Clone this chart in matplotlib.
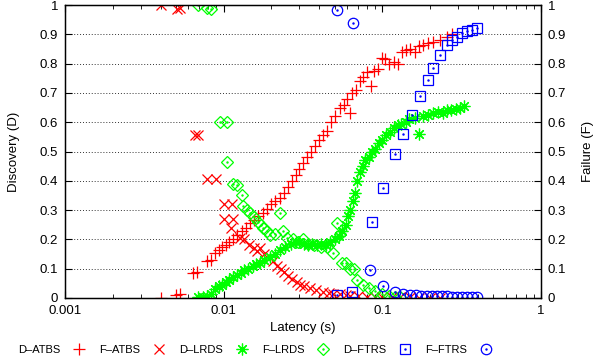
import matplotlib
matplotlib.use("Agg")
import matplotlib.pyplot as plt
from matplotlib.ticker import FixedLocator, FixedFormatter, LogLocator, NullFormatter
from matplotlib.legend_handler import HandlerTuple

plt.rcParams['font.family'] = ['Liberation Sans', 'DejaVu Sans']

# ---------------- data ----------------
d_atbs_x = [0.0040, 0.0050, 0.0053, 0.0064, 0.0068, 0.0079, 0.0083, 0.0088, 0.0093, 0.0098,
            0.0103, 0.0108, 0.0115, 0.0122, 0.0130, 0.0138, 0.0147, 0.0155, 0.0165, 0.0177,
            0.0188, 0.0200, 0.0212, 0.0226, 0.0240, 0.0255, 0.0270, 0.0285, 0.0300, 0.0318,
            0.0335, 0.0355, 0.0375, 0.0400, 0.0425, 0.0450, 0.0475, 0.050, 0.054, 0.057,
            0.060, 0.063, 0.064, 0.068, 0.072, 0.076, 0.080, 0.085, 0.088, 0.094,
            0.100, 0.104, 0.110, 0.118, 0.125, 0.133, 0.140, 0.150, 0.160, 0.170,
            0.180, 0.195, 0.210, 0.230, 0.255, 0.275]
d_atbs_y = [0.00, 0.01, 0.015, 0.085, 0.09, 0.125, 0.13, 0.155, 0.165, 0.175,
            0.18, 0.19, 0.20, 0.215, 0.23, 0.24, 0.255, 0.265, 0.28, 0.29,
            0.305, 0.32, 0.33, 0.34, 0.36, 0.38, 0.40, 0.42, 0.44, 0.46,
            0.48, 0.50, 0.52, 0.54, 0.555, 0.57, 0.60, 0.62, 0.65, 0.66,
            0.68, 0.63, 0.70, 0.71, 0.74, 0.755, 0.77, 0.725, 0.775, 0.78,
            0.82, 0.815, 0.80, 0.805, 0.80, 0.84, 0.845, 0.85, 0.84, 0.86,
            0.865, 0.87, 0.875, 0.88, 0.89, 0.90]

f_atbs_x = [0.0040, 0.0051, 0.0053, 0.0066, 0.0069, 0.0079, 0.0089, 0.0101, 0.0113, 0.0101,
            0.0115, 0.0112, 0.0126, 0.0135, 0.0145, 0.0155, 0.0163, 0.0170, 0.0180, 0.0195,
            0.0205, 0.0217, 0.0230, 0.0240, 0.0255, 0.0270, 0.0290, 0.0303, 0.0320, 0.0350,
            0.0380, 0.0423, 0.0460, 0.0490, 0.0540, 0.0590, 0.0630, 0.070, 0.080, 0.090,
            0.100, 0.115, 0.130, 0.150, 0.170, 0.200, 0.230]
f_atbs_y = [1.00, 0.985, 0.99, 0.556, 0.556, 0.405, 0.405, 0.32, 0.32, 0.27,
            0.27, 0.24, 0.205, 0.20, 0.18, 0.17, 0.16, 0.17, 0.15, 0.14,
            0.125, 0.11, 0.10, 0.09, 0.075, 0.065, 0.055, 0.045, 0.04, 0.033,
            0.027, 0.022, 0.018, 0.015, 0.012, 0.010, 0.008, 0.006, 0.005, 0.004,
            0.003, 0.003, 0.002, 0.002, 0.001, 0.001, 0.0]

d_lrds_x = [0.0069, 0.0074, 0.0079, 0.0083, 0.0088, 0.0093, 0.0098, 0.0103, 0.0108, 0.0115,
            0.0121, 0.0128, 0.0135, 0.0143, 0.0152, 0.0160, 0.0169, 0.0180, 0.0196, 0.0210,
            0.0226, 0.0245, 0.0265, 0.0285, 0.0300, 0.0320, 0.0340, 0.0360, 0.0385, 0.0410,
            0.0440, 0.0470, 0.0500, 0.0530, 0.0560, 0.0590, 0.0610, 0.0630, 0.0650, 0.0670,
            0.0690, 0.0720, 0.0750, 0.0780, 0.0820, 0.0860, 0.0900, 0.0950, 0.100, 0.106,
            0.112, 0.118, 0.125, 0.132, 0.140, 0.148, 0.160, 0.170, 0.180, 0.195,
            0.210, 0.225, 0.240, 0.255, 0.270, 0.290, 0.310, 0.325]
d_lrds_y = [0.003, 0.005, 0.008, 0.015, 0.03, 0.04, 0.045, 0.055, 0.06, 0.07,
            0.08, 0.085, 0.095, 0.10, 0.11, 0.115, 0.12, 0.13, 0.14, 0.15,
            0.165, 0.175, 0.185, 0.19, 0.19, 0.185, 0.18, 0.185, 0.18, 0.185,
            0.18, 0.19, 0.20, 0.21, 0.23, 0.25, 0.28, 0.30, 0.33, 0.36,
            0.40, 0.43, 0.45, 0.47, 0.48, 0.50, 0.51, 0.53, 0.54, 0.555,
            0.565, 0.58, 0.59, 0.595, 0.60, 0.61, 0.615, 0.56, 0.62, 0.625,
            0.63, 0.635, 0.63, 0.64, 0.64, 0.645, 0.65, 0.655]

f_lrds_x = [0.0069, 0.0079, 0.0083, 0.0095, 0.0105, 0.0105, 0.0114, 0.0121, 0.0130, 0.0132,
            0.0140, 0.0147, 0.0155, 0.0164, 0.0172, 0.0177, 0.0187, 0.0196, 0.0210, 0.0226,
            0.0237, 0.0250, 0.0273, 0.0295, 0.0316, 0.0340, 0.0370, 0.0410, 0.0448, 0.0489,
            0.0519, 0.0540, 0.0560, 0.0590, 0.0626, 0.0660, 0.0692, 0.0756, 0.082, 0.090,
            0.100, 0.110, 0.120, 0.130]
f_lrds_y = [1.00, 0.99, 0.985, 0.60, 0.60, 0.465, 0.39, 0.385, 0.35, 0.315,
            0.30, 0.29, 0.275, 0.26, 0.25, 0.24, 0.23, 0.215, 0.22, 0.29,
            0.23, 0.205, 0.20, 0.19, 0.20, 0.185, 0.18, 0.175, 0.175, 0.155,
            0.255, 0.22, 0.12, 0.12, 0.10, 0.10, 0.06, 0.045, 0.035, 0.025,
            0.015, 0.008, 0.004, 0.002]

d_ftrs_x = [0.0517, 0.0641, 0.0860, 0.1009, 0.1200, 0.1349, 0.1537, 0.1727, 0.1938, 0.2084,
            0.2306, 0.2553, 0.2746, 0.2953, 0.3177, 0.3415, 0.3673, 0.3948]
d_ftrs_y = [0.01, 0.02, 0.26, 0.375, 0.49, 0.56, 0.625, 0.69, 0.745, 0.785,
            0.83, 0.865, 0.88, 0.89, 0.905, 0.91, 0.915, 0.92]

f_ftrs_x = [0.0517, 0.0650, 0.0837, 0.1009, 0.1200, 0.1349, 0.150, 0.163, 0.176, 0.190,
            0.205, 0.220, 0.237, 0.255, 0.275, 0.296, 0.318, 0.342, 0.367, 0.395]
f_ftrs_y = [0.983, 0.94, 0.095, 0.04, 0.02, 0.015, 0.01, 0.009, 0.008, 0.008,
            0.007, 0.007, 0.006, 0.006, 0.005, 0.005, 0.005, 0.004, 0.004, 0.004]

labels = ['D\u2013ATBS', 'F\u2013ATBS', 'D\u2013LRDS', 'F\u2013LRDS', 'D\u2013FTRS', 'F\u2013FTRS']
x_ticks = [0.001, 0.01, 0.1, 1]
x_tick_labels = ['0.001', '0.01', '0.1', '1']
y_ticks = [0, 0.1, 0.2, 0.3, 0.4, 0.5, 0.6, 0.7, 0.8, 0.9, 1]
y_tick_labels = ['0', '0.1', '0.2', '0.3', '0.4', '0.5', '0.6', '0.7', '0.8', '0.9', '1']

RED = '#ff0000'
GREEN = '#00ff00'
BLUE = '#0000ff'

fig = plt.figure(figsize=(5.97, 3.64), dpi=100)
ax = fig.add_axes([65 / 597, 66 / 364, 476 / 597, 293 / 364])
ax.set_xscale('log')

ms = 7.5
lw = 0.9
h1, = ax.plot(d_atbs_x, d_atbs_y, ls='none', marker='+', ms=ms + 1, mew=lw, color=RED)
h2, = ax.plot(f_atbs_x, f_atbs_y, ls='none', marker='x', ms=ms, mew=lw, color=RED)
h3, = ax.plot(d_lrds_x, d_lrds_y, ls='none', marker=(8, 2, 0), ms=ms + 1, mew=lw, color=GREEN)
h4, = ax.plot(f_lrds_x, f_lrds_y, ls='none', marker='D', ms=ms - 1.5, mew=lw, color=GREEN, mfc='none')
h4d, = ax.plot(f_lrds_x, f_lrds_y, ls='none', marker='.', ms=1.5, color=GREEN)
h5, = ax.plot(d_ftrs_x, d_ftrs_y, ls='none', marker='s', ms=ms, mew=lw, color=BLUE, mfc='none')
h5d, = ax.plot(d_ftrs_x, d_ftrs_y, ls='none', marker='.', ms=1.5, color=BLUE)
h6, = ax.plot(f_ftrs_x, f_ftrs_y, ls='none', marker='o', ms=ms, mew=lw, color=BLUE, mfc='none')
h6d, = ax.plot(f_ftrs_x, f_ftrs_y, ls='none', marker='.', ms=1.5, color=BLUE)

ax.set_xlim(0.001, 1)
ax.set_ylim(0, 1)
ax.xaxis.set_major_locator(FixedLocator(x_ticks))
ax.xaxis.set_major_formatter(FixedFormatter(x_tick_labels))
ax.xaxis.set_minor_locator(LogLocator(base=10, subs=range(2, 10)))
ax.xaxis.set_minor_formatter(NullFormatter())
ax.yaxis.set_major_locator(FixedLocator(y_ticks))
ax.yaxis.set_major_formatter(FixedFormatter(y_tick_labels))

ax.yaxis.grid(True, linestyle=(0, (1, 2)), color='#333333', linewidth=0.7)
ax.set_axisbelow(True)

ax.tick_params(which='both', direction='in', top=True, right=False, labelsize=9.5, pad=5)
ax.tick_params(which='major', length=5, width=0.8)
ax.tick_params(which='minor', length=3, width=0.6)
for s in ax.spines.values():
    s.set_linewidth(1.0)

ax2 = ax.twinx()
ax2.set_ylim(0, 1)
ax2.yaxis.set_major_locator(FixedLocator(y_ticks))
ax2.yaxis.set_major_formatter(FixedFormatter(y_tick_labels))
ax2.tick_params(direction='in', length=5, width=0.8, labelsize=9.5, pad=5)

ax.set_xlabel('Latency (s)', fontsize=9.5, labelpad=4)
ax.set_ylabel('Discovery (D)', fontsize=9.5, labelpad=14)
ax2.set_ylabel('Failure (F)', fontsize=9.5, labelpad=11)

handles = [h1, h2, h3, (h4, h4d), (h5, h5d), (h6, h6d)]
fig.legend(handles, labels, loc='center', bbox_to_anchor=(0.43, 0.038), ncol=6,
           markerfirst=False, frameon=False, fontsize=8, handlelength=1.6,
           handletextpad=0.9, columnspacing=1.0, borderaxespad=0,
           handler_map={tuple: HandlerTuple(ndivide=1)})

fig.savefig('out.png', dpi=100)
